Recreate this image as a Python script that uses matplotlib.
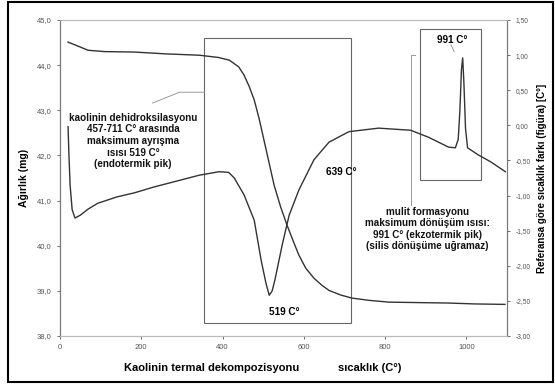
import matplotlib
matplotlib.use("Agg")
import matplotlib.pyplot as plt
from matplotlib.patches import Rectangle

plt.rcParams['font.family'] = ['Liberation Sans', 'DejaVu Sans']

# TG egrisi (agirlik, mg)
tg_temp = [20, 45, 69, 110, 184, 260, 343, 390, 417, 440, 453, 466, 478, 490, 502, 515,
           527, 543, 559, 575, 588, 605, 625, 645, 662, 690, 718, 760, 809, 880, 956, 1020, 1095]
tg_mass = [44.51, 44.42, 44.33, 44.30, 44.29, 44.25, 44.22, 44.17, 44.11, 43.96, 43.78, 43.52,
           43.23, 42.82, 42.34, 41.82, 41.34, 40.86, 40.45, 40.08, 39.79, 39.50, 39.28, 39.12,
           39.01, 38.91, 38.84, 38.79, 38.75, 38.74, 38.73, 38.71, 38.70]

# DTA egrisi (sicaklik farki, C)
dta_temp = [20, 22, 25, 30, 37, 50, 70, 93, 140, 184, 230, 270, 343, 392, 415, 429, 453, 478,
            495, 507, 515, 522, 529, 547, 564, 588, 625, 662, 711, 784, 863, 907, 956, 973,
            980, 984, 988, 991, 994, 998, 1003, 1029, 1060, 1096]
dta_val = [-0.02, -0.40, -0.85, -1.20, -1.32, -1.28, -1.19, -1.11, -1.02, -0.96, -0.88, -0.82,
           -0.71, -0.66, -0.67, -0.75, -0.99, -1.35, -1.92, -2.25, -2.42, -2.36, -2.20, -1.70,
           -1.28, -0.92, -0.49, -0.24, -0.09, -0.04, -0.07, -0.17, -0.31, -0.32, -0.20, 0.20,
           0.80, 0.96, 0.60, -0.05, -0.32, -0.42, -0.52, -0.66]

x_ticks = [0, 200, 400, 600, 800, 1000]
left_ticks = [38, 39, 40, 41, 42, 43, 44, 45]
right_ticks = [-3.0, -2.5, -2.0, -1.5, -1.0, -0.5, 0.0, 0.5, 1.0, 1.5]

line_col = '#333333'
box_col = '#666666'

fig = plt.figure(figsize=(5.55, 3.9), dpi=100)
ax = fig.add_axes([0.108, 0.1385, 0.8055, 0.8102])
ax2 = ax.twinx()

ax.plot(tg_temp, tg_mass, color=line_col, lw=1.0)
ax2.plot(dta_temp, dta_val, color=line_col, lw=1.0)

ax.set_xlim(0, 1100)
ax.set_ylim(38, 45)
ax2.set_ylim(-3, 1.5)

ax.set_xticks(x_ticks)
ax.set_xticklabels([str(t) for t in x_ticks])
ax.set_yticks(left_ticks)
ax.set_yticklabels([f'{v:.1f}'.replace('.', ',') for v in left_ticks])
ax2.set_yticks(right_ticks)
ax2.set_yticklabels([f'{v:.2f}'.replace('.', ',') for v in right_ticks])

ax.tick_params(labelsize=5.5, colors='#555555', length=2.5, width=0.6)
ax2.tick_params(labelsize=4.8, colors='#555555', length=2.5, width=0.6)
for a in (ax, ax2):
    for side in ('top', 'bottom'):
        a.spines[side].set_color('#bbbbbb')
        a.spines[side].set_linewidth(0.8)
    for side in ('left', 'right'):
        a.spines[side].set_color('#777777')
        a.spines[side].set_linewidth(0.8)

ax.set_ylabel('Ağırlık (mg)', fontsize=7.5, fontweight='bold', labelpad=6)
ax2.set_ylabel('Referansa göre sıcaklık farkı (figüra) [C°]', fontsize=7,
               fontweight='bold', labelpad=5)

# kutular
ax.add_patch(Rectangle((355, 38.28), 361, 44.6 - 38.28, fill=False, ec=box_col, lw=0.8))
ax.add_patch(Rectangle((885, 41.45), 152, 44.8 - 41.45, fill=False, ec=box_col, lw=0.8))

# isaret cizgileri
ax.plot([228, 294, 355], [43.16, 43.40, 43.40], color='#999999', lw=0.7)
ax.plot([863, 863, 873], [40.9, 44.22, 44.22], color='#999999', lw=0.7)
ax.plot([962, 970], [44.45, 44.3], color='#999999', lw=0.7)

tkw = dict(fontsize=7.1, fontweight='bold', ha='center', va='center', color='#111111')
ax.text(180, 42.32, 'kaolinin dehidroksilasyonu\n457-711 C° arasında\nmaksimum ayrışma\n'
        'ısısı 519 C°\n(endotermik pik)', linespacing=1.2, **tkw)
ax.text(905, 40.37, 'mulit formasyonu\nmaksimum dönüşüm ısısı:\n991 C° (ekzotermik pik)\n'
        '(silis dönüşüme uğramaz)', linespacing=1.2, **tkw)
ax.text(552, 38.53, '519 C°', fontsize=7.2, fontweight='bold', ha='center', va='center')
ax.text(692, 41.63, '639 C°', fontsize=7.2, fontweight='bold', ha='center', va='center')
ax.text(965, 44.55, '991 C°', fontsize=7.2, fontweight='bold', ha='center', va='center')

fig.text(0.381, 0.056, 'Kaolinin termal dekompozisyonu', fontsize=8, fontweight='bold',
         ha='center', va='center')
fig.text(0.667, 0.056, 'sıcaklık (C°)', fontsize=8, fontweight='bold', ha='center', va='center')

# dis cerceve
fig.patches.append(Rectangle((0.014, 0.02), 0.982, 0.975, transform=fig.transFigure,
                             fill=False, ec='black', lw=1.5))

fig.savefig('out.png', dpi=100)
